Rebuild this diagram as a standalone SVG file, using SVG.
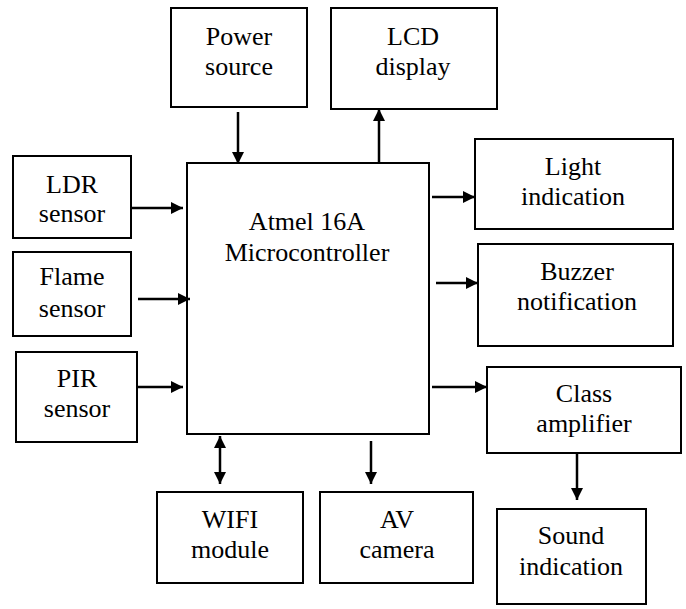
<svg xmlns="http://www.w3.org/2000/svg" width="686" height="609" viewBox="0 0 686 609">
<defs>
<marker id="ah" viewBox="0 0 12 12" refX="12" refY="6" markerWidth="12" markerHeight="12" markerUnits="userSpaceOnUse" orient="auto-start-reverse">
<path d="M0,0 L12,6 L0,12 Z" fill="#000"/>
</marker>
</defs>
<style>
rect{fill:#fff;stroke:#000;stroke-width:2}
text{font-family:"Liberation Serif","Tinos","Noto Serif","DejaVu Serif",serif;font-size:26px;text-anchor:middle;fill:#000}
.c line{stroke:#000;stroke-width:2.5;marker-end:url(#ah)}
</style>
<rect width="686" height="609" style="stroke:none"/>
<g id="power"><rect x="171" y="8" width="136" height="99"/><text x="239" y="45">Power</text><text x="239" y="75">source</text></g>
<g id="lcd"><rect x="331" y="8" width="166" height="101"/><text x="413" y="45">LCD</text><text x="413" y="75">display</text></g>
<g id="mcu"><rect x="187" y="163" width="242" height="271"/><text x="307" y="230">Atmel 16A</text><text x="307" y="261">Microcontroller</text></g>
<g id="ldr"><rect x="13" y="156" width="118" height="82"/><text x="72" y="193">LDR</text><text x="72" y="222">sensor</text></g>
<g id="flame"><rect x="13" y="252" width="118" height="84"/><text x="72" y="285">Flame</text><text x="72" y="317">sensor</text></g>
<g id="pir"><rect x="16" y="352" width="121" height="90"/><text x="77" y="387">PIR</text><text x="77" y="417">sensor</text></g>
<g id="light"><rect x="475" y="139" width="198" height="90"/><text x="573" y="175">Light</text><text x="573" y="205">indication</text></g>
<g id="buzzer"><rect x="478" y="244" width="195" height="102"/><text x="577" y="280">Buzzer</text><text x="577" y="310">notification</text></g>
<g id="amp"><rect x="487" y="367" width="194" height="86"/><text x="584" y="402">Class</text><text x="584" y="432">amplifier</text></g>
<g id="sound"><rect x="497" y="509" width="149" height="95"/><text x="571" y="544">Sound</text><text x="571" y="575">indication</text></g>
<g id="wifi"><rect x="157" y="492" width="146" height="91"/><text x="230" y="528">WIFI</text><text x="230" y="558">module</text></g>
<g id="av"><rect x="320" y="492" width="153" height="91"/><text x="397" y="528">AV</text><text x="397" y="558">camera</text></g>
<g class="c" id="connectors">
<line x1="238" y1="112" x2="238" y2="164"/>
<line x1="379" y1="163" x2="379" y2="109"/>
<line x1="432" y1="197" x2="475" y2="197"/>
<line x1="436" y1="283" x2="478" y2="283"/>
<line x1="432" y1="387" x2="487" y2="387"/>
<line x1="577" y1="453" x2="577" y2="500"/>
<line x1="131" y1="208" x2="183" y2="208"/>
<line x1="138" y1="299" x2="190" y2="299"/>
<line x1="137" y1="387" x2="183" y2="387"/>
<line x1="220" y1="436" x2="220" y2="484" style="marker-start:url(#ah)"/>
<line x1="371" y1="441" x2="371" y2="484"/>
</g>
</svg>
